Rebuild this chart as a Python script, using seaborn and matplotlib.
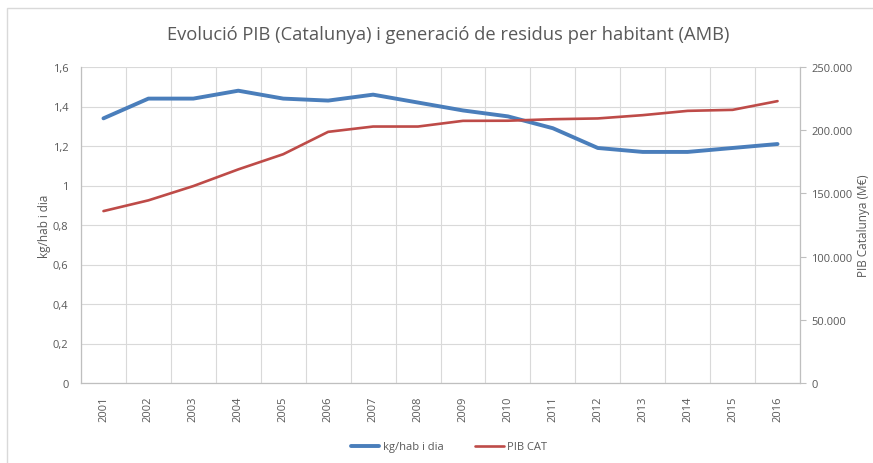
import matplotlib
matplotlib.use("Agg")
import matplotlib.pyplot as plt
import matplotlib.patches as mpatches
from matplotlib.lines import Line2D
import numpy as np
import pandas as pd
import seaborn as sns

# data
years = [2001, 2002, 2003, 2004, 2005, 2006, 2007, 2008,
         2009, 2010, 2011, 2012, 2013, 2014, 2015, 2016]
kg_hab_dia = [1.34, 1.44, 1.44, 1.48, 1.44, 1.43, 1.46, 1.42,
              1.38, 1.35, 1.29, 1.19, 1.17, 1.17, 1.19, 1.21]
pib_cat = [136000, 144500, 155800, 169000, 181000, 198700, 202900, 202900,
           207400, 207500, 208700, 209300, 211900, 215300, 216100, 223000]

left_ticks = [0, 0.2, 0.4, 0.6, 0.8, 1.0, 1.2, 1.4, 1.6]
left_labels = ["0", "0,2", "0,4", "0,6", "0,8", "1", "1,2", "1,4", "1,6"]
right_ticks = [0, 50000, 100000, 150000, 200000, 250000]
right_labels = ["0", "50.000", "100.000", "150.000", "200.000", "250.000"]

title = "Evolució PIB (Catalunya) i generació de residus per habitant (AMB)"

BLUE = "#4A7EBB"
RED = "#BE4B48"
GREY_TXT = "#595959"
GRID = "#D9D9D9"

sns.set_style("white")
plt.rcParams["font.family"] = ["Open Sans", "DejaVu Sans"]

df = pd.DataFrame({"pos": np.arange(len(years)), "year": years,
                   "kg": kg_hab_dia, "pib": pib_cat})

W, H = 873, 464
fig = plt.figure(figsize=(W / 100, H / 100), dpi=100)
fig.patches.append(mpatches.Rectangle((6.5 / W, -0.1), 1.2, 1 - 9 / H + 0.1,
                                      transform=fig.transFigure, fill=False,
                                      edgecolor="#D9D9D9", lw=1.0))

x0, x1, y0, y1 = 81, 800, 68, 384
ax = fig.add_axes([x0 / W, 1 - y1 / H, (x1 - x0) / W, (y1 - y0) / H])

sns.lineplot(data=df, x="pos", y="kg", ax=ax, color=BLUE, lw=2.8, legend=False)
ax.set_xlim(-0.5, len(years) - 0.5)
ax.set_ylim(0, 1.6)
ax.set_yticks(left_ticks)
ax.set_yticklabels(left_labels)
ax.set_xticks(df["pos"])
ax.set_xticklabels([str(y) for y in years], rotation=90)
ax.set_xticks(np.arange(len(years) + 1) - 0.5, minor=True)
ax.grid(False)
ax.grid(True, axis="y", which="major", color=GRID, lw=0.8)
ax.grid(True, axis="x", which="minor", color=GRID, lw=0.8)
ax.tick_params(axis="both", which="both", length=0, colors=GREY_TXT, labelsize=8)
ax.tick_params(axis="x", pad=9)
ax.tick_params(axis="y", pad=9)
ax.set_xlabel("")
ax.set_ylabel("kg/hab i dia", color=GREY_TXT, fontsize=8.5, labelpad=1)
for side in ["top", "right"]:
    ax.spines[side].set_visible(False)
for side in ["left", "bottom"]:
    ax.spines[side].set_color("#BFBFBF")
    ax.spines[side].set_linewidth(0.9)

ax2 = ax.twinx()
sns.lineplot(data=df, x="pos", y="pib", ax=ax2, color=RED, lw=1.9, legend=False)
ax2.set_ylim(0, 250000)
ax2.set_yticks(right_ticks)
ax2.set_yticklabels(right_labels)
ax2.grid(False)
ax2.tick_params(axis="y", length=4, width=0.8, color="#BFBFBF",
                colors=GREY_TXT, labelsize=8, pad=4)
ax2.tick_params(axis="y", color="#BFBFBF")
ax2.set_ylabel("PIB Catalunya (M€)", color=GREY_TXT, fontsize=8.5, labelpad=3)
for side in ["top", "left", "bottom"]:
    ax2.spines[side].set_visible(False)
ax2.spines["right"].set_color("#BFBFBF")
ax2.spines["right"].set_linewidth(0.9)

fig.text(448.5 / W, 1 - 35 / H, title, ha="center", va="center",
         fontsize=13.2, color=GREY_TXT)

handles = [Line2D([], [], color=BLUE, lw=2.8),
           Line2D([], [], color=RED, lw=1.9)]
fig.legend(handles, ["kg/hab i dia", "PIB CAT"], loc="center",
           bbox_to_anchor=(0.514, 1 - 448 / H), ncol=2, frameon=False,
           fontsize=8, labelcolor=GREY_TXT, handlelength=2.6,
           handletextpad=0.3, columnspacing=2.8)

fig.savefig("out.png", dpi=100)
